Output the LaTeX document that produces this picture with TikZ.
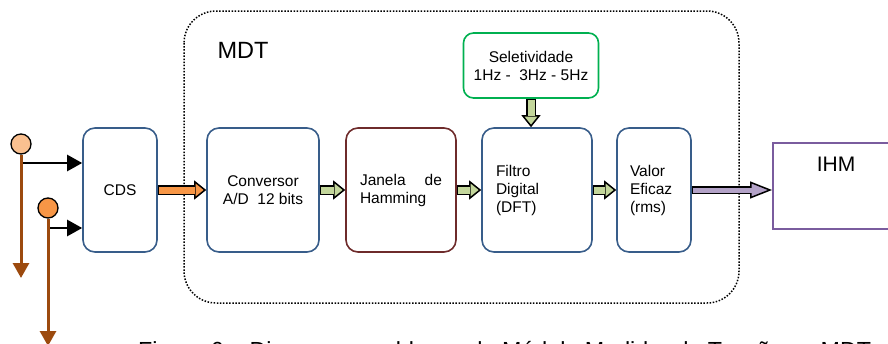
\documentclass[tikz,border=0pt]{standalone}
\usepackage{fontspec}
\setmainfont{Liberation Sans}
\usetikzlibrary{arrows.meta}

\definecolor{boxblue}{HTML}{385D8A}
\definecolor{boxbrown}{HTML}{6E2B2B}
\definecolor{selgreen}{HTML}{00B050}
\definecolor{ihmpurple}{HTML}{7A5C9E}
\definecolor{orangefill}{HTML}{F79646}
\definecolor{greenfill}{HTML}{C3D69B}
\definecolor{purplefill}{HTML}{B3A2C7}
\definecolor{infill}{HTML}{FAC090}
\definecolor{wirebrown}{HTML}{9C4A0E}

\begin{document}
\begin{tikzpicture}[x=1pt, y=-1pt,
	every node/.style={font=\fontsize{15.5}{18}\selectfont},
	blk/.style={draw=boxblue, line width=1.6pt, rounded corners=12pt, minimum height=124pt, inner sep=0pt, align=center},
	barrow/.style={line width=10pt, -{Triangle[length=12pt, width=19pt, fill=#1, line width=1.5pt]}, postaction={draw=#1, -, line width=7pt, shorten >=11pt, shorten <=1.5pt}},
	parrow/.style={line width=8pt, -{Triangle[length=22pt, width=17pt, fill=purplefill, line width=1.5pt]}, postaction={draw=purplefill, -, line width=5pt, shorten >=20pt, shorten <=1.5pt}},
	inarr/.style={line width=2.4pt, -{Triangle[length=15pt, width=16pt]}},
	brarr/.style={wirebrown, line width=3pt, -{Triangle[length=15pt, width=16pt]}},
	dot/.style={circle, draw, line width=1.3pt, minimum size=20pt, inner sep=0pt}]
	\useasboundingbox (0,0) rectangle (888,343);
	\clip (0,0) rectangle (888,343);
	% MDT frame
	\draw[dash pattern=on 1.5pt off 1.6pt, line width=1.5pt, rounded corners=32pt] (184,11) rectangle (739,303);
	\node[font=\fontsize{23.5}{26}\selectfont] (mdt) at (243,50) {MDT};
	% blocks
	\node[blk, minimum width=74pt] (cds) at (120,190) {CDS};
	\node[blk, minimum width=112pt] (conv) at (263,190) {Conversor\\A/D\ \ 12 bits};
	\node[blk, draw=boxbrown, minimum width=110pt, text width=82pt, align=left] (jan) at (401,190) {Janela\hfill de\\Hamming};
	\node[blk, minimum width=110pt, text width=82pt, align=left] (filt) at (537,190) {Filtro\\Digital\\(DFT)};
	\node[blk, minimum width=74pt, text width=48pt, align=left] (val) at (654,190) {Valor\\Eficaz\\(rms)};
	\node[draw=selgreen, line width=1.6pt, rounded corners=10pt, minimum width=135pt, minimum height=65pt, inner sep=0pt, align=center] (sel) at (531,65.5) {Seletividade\\1Hz -\ \ 3Hz - 5Hz};
	\node[draw=ihmpurple, line width=1.6pt, minimum width=128pt, minimum height=86pt, anchor=north west] (ihm) at (772,142) {};
	\node[font=\fontsize{21}{24}\selectfont] (ihmlbl) at (836,164) {IHM};
	% block arrows
	\draw[barrow=orangefill] (cds.east) -- (conv.west);
	\draw[barrow=greenfill] (conv.east) -- (jan.west);
	\draw[barrow=greenfill] (jan.east) -- (filt.west);
	\draw[barrow=greenfill] (filt.east) -- (val.west);
	\draw[barrow=greenfill] (sel.south) -- (sel.south |- filt.north);
	\draw[parrow] (val.east) -- (val.east -| ihm.west);
	% inputs
	\coordinate (t1) at (21,163);
	\coordinate (t2) at (48,228);
	\coordinate (e1) at (21,278);
	\coordinate (e2) at (48,346);
	\draw[inarr] (t1) -- (t1 -| cds.west);
	\draw[inarr] (t2) -- (t2 -| cds.west);
	\node[dot, fill=infill] (in1) at (21,144) {};
	\node[dot, fill=orangefill] (in2) at (48,208) {};
	\draw[brarr] (in1.south) -- (e1);
	\draw[brarr] (in2.south) -- (e2);
	% caption
	\node[font=\fontsize{23.3}{26}\selectfont, anchor=base west, inner sep=0pt] (cap) at (138,358) {Figura 6 – Diagrama em blocos do Módulo Medidor de Tensões – MDT};
\end{tikzpicture}
\end{document}
